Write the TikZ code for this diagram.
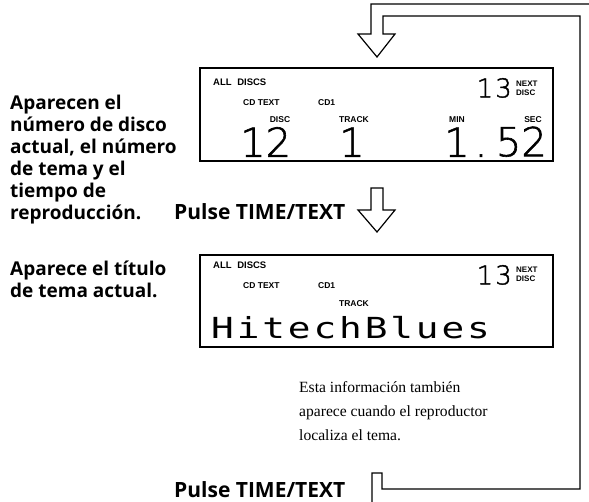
\documentclass[tikz,border=0pt]{standalone}
\usepackage{fontspec}
\setmainfont{Liberation Serif}
\newfontfamily\labfont{Open Sans}
\newfontfamily\lcdfont{Liberation Sans}
\newfontfamily\thinfont{DejaVu Sans ExtraLight}[FakeBold=1.5]
\newfontfamily\dotfont{DejaVu Sans Mono}[FakeStretch=1.3,LetterSpace=10]
\begin{document}
\begin{tikzpicture}[x=1pt,y=-1pt,
  lab/.style={font=\labfont\bfseries\fontsize{19}{22}\selectfont, align=left, anchor=north west, inner sep=0pt},
  press/.style={font=\labfont\bfseries\fontsize{21}{22}\selectfont, anchor=base west, inner sep=0pt},
  note/.style={font=\fontsize{15.6}{24}\selectfont, align=left, anchor=north west, inner sep=0pt},
  lcdlab/.style={font=\lcdfont\bfseries\fontsize{8.5}{8.5}\selectfont, inner sep=0pt},
  lcdtwo/.style={font=\lcdfont\bfseries\fontsize{8}{9}\selectfont, align=left, inner sep=0pt},
  bigdig/.style={font=\thinfont\fontsize{40}{40}\selectfont, inner sep=0pt},
  middig/.style={font=\thinfont\fontsize{26}{26}\selectfont, inner sep=0pt},
  dotmat/.style={font=\dotfont\fontsize{29}{29}\selectfont, inner sep=0pt},
  lcdbox/.style={draw, line width=2pt},
  hollow/.style={draw, line width=1.2pt, line join=miter}]
\useasboundingbox (0,0) rectangle (589,502);

% left explanations
\node[lab] (t1) at (10,95) {Aparecen el\\número de disco\\actual, el número\\de tema y el\\tiempo de\\reproducción.};
\node[lab] (t2) at (10,261) {Aparece el título\\de tema actual.};

% display 1
\node[lcdbox, minimum width=353pt, minimum height=93pt, anchor=north west] (d1) at (199,67) {};
\node[lcdlab, font=\lcdfont\bfseries\fontsize{9.5}{9.5}\selectfont, anchor=west] (d1all) at (213,82) {ALL\hspace{3pt} DISCS};
\node[lcdlab, anchor=west] (d1cdt) at (243,103) {CD TEXT};
\node[lcdlab, anchor=west] (d1cd1) at (318,103) {CD1};
\node[lcdlab] (d1disc) at (280,120) {DISC};
\node[lcdlab] (d1track) at (354,120) {TRACK};
\node[lcdlab] (d1min) at (457,120) {MIN};
\node[lcdlab] (d1sec) at (533,120) {SEC};
\node[lcdtwo, anchor=west] (d1next) at (516,88) {NEXT\\DISC};
\node[middig, anchor=south east] (d1n) at (512,98) {1\hspace{2pt}3};
\node[bigdig, anchor=south west] (d1d) at (240,157) {12};
\node[bigdig, anchor=south] (d1t) at (352,157) {1};
\node[bigdig, anchor=south] (d1m) at (457,157) {1};
\node[bigdig, anchor=south] (d1p) at (481,157) {.};
\node[bigdig, anchor=south east] (d1s) at (547,157) {52};

% display 2
\node[lcdbox, minimum width=353pt, minimum height=92pt, anchor=north west] (d2) at (199,254) {};
\node[lcdlab, font=\lcdfont\bfseries\fontsize{9.5}{9.5}\selectfont, anchor=west] (d2all) at (213,265) {ALL\hspace{3pt} DISCS};
\node[lcdlab, anchor=west] (d2cdt) at (243,286) {CD TEXT};
\node[lcdlab, anchor=west] (d2cd1) at (318,286) {CD1};
\node[lcdlab] (d2track) at (354,304) {TRACK};
\node[lcdtwo, anchor=west] (d2next) at (516,274) {NEXT\\DISC};
\node[middig, anchor=south east] (d2n) at (512,285) {1\hspace{2pt}3};
\node[dotmat, anchor=base west] (d2title) at (211,339) {HitechBlues};

% press labels
\node[press] (p1) at (174,220) {Pulse TIME/TEXT};
\node[press] (p2) at (174,497) {Pulse TIME/TEXT};

% note
\node[note] (n1) at (299,381) {Esta información también\\aparece cuando el reproductor\\localiza el tema.};

% middle hollow arrow
\draw[hollow] (371,188) -- (383,188) -- (383,210) -- (395,210) -- (377,232) -- (358,210) -- (371,210) -- cycle;

% loop back hollow arrow
\draw[hollow] (589,4) -- (371,4) -- (371,34) -- (358,34) -- (377,57) -- (395,34) -- (383,34) -- (383,16) -- (580,16) -- (580,489) -- (382,489) -- (382,473) -- (372,473) -- (372,502);
\end{tikzpicture}
\end{document}
